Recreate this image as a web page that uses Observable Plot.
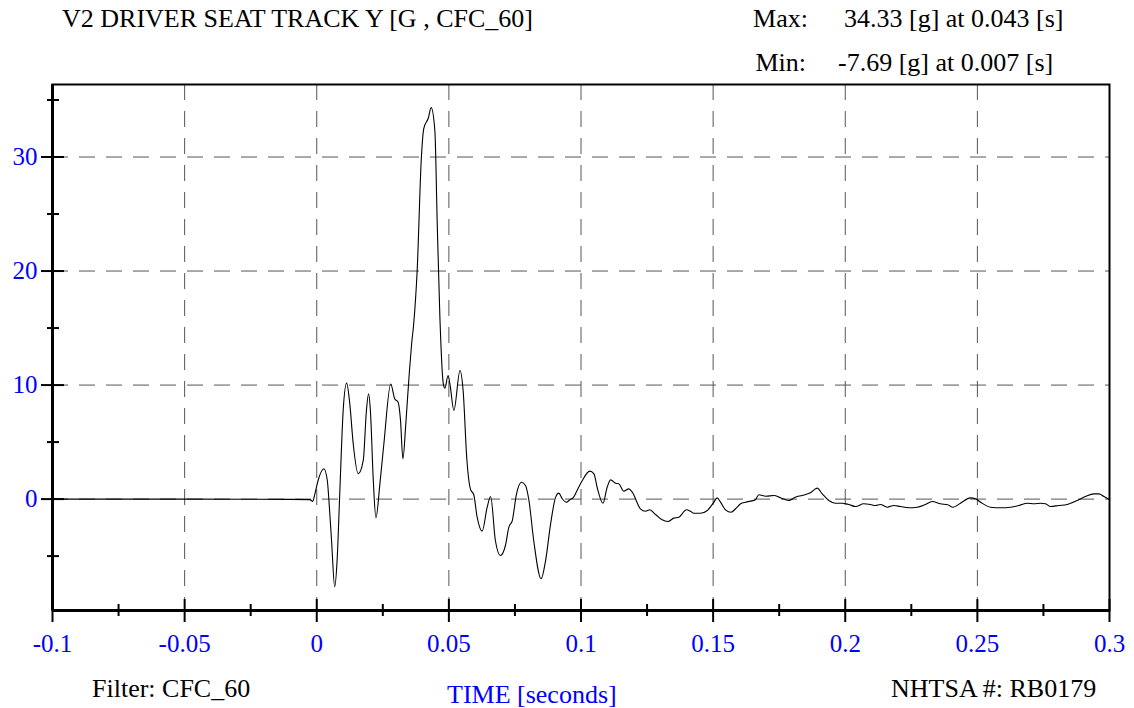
<!DOCTYPE html>
<html>
<head>
<meta charset="utf-8">
<script src="https://cdn.jsdelivr.net/npm/d3@7"></script>
<script src="https://cdn.jsdelivr.net/npm/@observablehq/plot@0.6"></script>
<style>
  html, body { margin: 0; padding: 0; background: #fff; }
  #chart { position: relative; width: 1134px; height: 708px; }
</style>
</head>
<body>
<div id="chart"></div>
<script>
// ---- data ----
const time = [
  -0.1, -0.05, -0.01, -0.0026, -0.0015, -0.0007, 0.0005, 0.0027, 0.0040, 0.0046,
  0.0056, 0.0068, 0.0077, 0.0087, 0.0100, 0.0113, 0.0125, 0.0138, 0.0157, 0.0176,
  0.0188, 0.0196, 0.0203, 0.0214, 0.0224, 0.0239, 0.0254, 0.0280, 0.0295, 0.0308,
  0.0317, 0.0326, 0.0337, 0.0350, 0.0359, 0.0367, 0.0380, 0.0396, 0.0405, 0.0422,
  0.0433, 0.0447, 0.0456, 0.0466, 0.0479, 0.0485, 0.0497, 0.0504, 0.0519, 0.0542,
  0.0554, 0.0568, 0.0582, 0.0594, 0.0607, 0.0626, 0.0645, 0.0658, 0.0676, 0.0695,
  0.0714, 0.0727, 0.0740, 0.0756, 0.0775, 0.0790, 0.0803, 0.0821, 0.0849, 0.0866,
  0.0885, 0.0904, 0.0916, 0.0929, 0.0945, 0.0958, 0.0972, 0.0985, 0.1005, 0.1033,
  0.1049, 0.1061, 0.1083, 0.1099, 0.1112, 0.1131, 0.1143, 0.1162, 0.1181, 0.1194,
  0.1225, 0.1244, 0.1260, 0.1282, 0.1307, 0.1329, 0.1351, 0.1370, 0.1399, 0.1414,
  0.1427, 0.1452, 0.1478, 0.1503, 0.1515, 0.1528, 0.1547, 0.1568, 0.1585, 0.1604,
  0.1623, 0.1641, 0.1660, 0.1673, 0.1699, 0.1730, 0.1755, 0.1786, 0.1811, 0.1837,
  0.1868, 0.1894, 0.1913, 0.1938, 0.1963, 0.1988, 0.2013, 0.2039, 0.2070, 0.2095,
  0.2114, 0.2133, 0.2159, 0.2184, 0.2209, 0.2240, 0.2272, 0.2303, 0.2329, 0.2360,
  0.2388, 0.2408, 0.2436, 0.2474, 0.2493, 0.2512, 0.2550, 0.2588, 0.2625, 0.2657,
  0.2689, 0.2714, 0.2739, 0.2758, 0.2777, 0.2808, 0.2840, 0.2878, 0.2909, 0.2941,
  0.2960, 0.2979, 0.3
];
const accel = [
  0, 0, -0.02, -0.05, -0.2, 0.46, 1.63, 2.66, 1.63, -0.1,
  -3.63, -7.69, -5.39, 0.46, 7.77, 10.17, 8.36, 4.85, 2.22, 3.39,
  7.77, 9.24, 7.77, 1.63, -1.64, 1.34, 4.85, 10.1, 8.8, 8.5,
  6.9, 3.53, 6.6, 11.0, 13.6, 15.4, 20.05, 30.0, 32.5, 33.4,
  34.33, 32.3, 24.1, 15.96, 10.1, 9.73, 10.84, 10.1, 7.77, 11.28,
  9.5, 3.5, 0.85, 0.4, -1.59, -2.81, -0.7, 0.23, -3.63, -4.95,
  -4.07, -2.46, -1.88, 0.46, 1.48, 1.19, -0.12, -3.63, -6.99, -5.39,
  -2.17, 0.17, 0.52, 0.03, -0.27, -0.06, 0.17, 0.75, 1.63, 2.45,
  2.22, 1.04, -0.36, 1.04, 1.69, 1.39, 1.34, 0.69, 0.9, 0.61,
  -0.85, -1.06, -0.94, -1.35, -1.82, -1.96, -1.67, -1.59, -0.94, -1.06,
  -1.24, -1.24, -1.0, -0.27, 0.11, -0.27, -0.94, -1.15, -0.85, -0.41,
  -0.27, -0.18, -0.06, 0.38, 0.25, 0.32, 0.11, -0.12, 0.17, 0.32,
  0.55, 0.96, 0.46, -0.12, -0.36, -0.36, -0.47, -0.65, -0.41, -0.47,
  -0.56, -0.47, -0.71, -0.56, -0.65, -0.76, -0.71, -0.47, -0.21, -0.41,
  -0.5, -0.71, -0.36, 0.11, 0.03, -0.27, -0.71, -0.76, -0.71, -0.56,
  -0.36, -0.41, -0.36, -0.41, -0.65, -0.56, -0.47, -0.12, 0.23, 0.46,
  0.46, 0.23, -0.05
];
const xMajorTicks = [-0.1, -0.05, 0, 0.05, 0.1, 0.15, 0.2, 0.25, 0.3];
const xTickLabels = ["-0.1", "-0.05", "0", "0.05", "0.1", "0.15", "0.2", "0.25", "0.3"];
const xMinorTicks = [-0.075, -0.025, 0.025, 0.075, 0.125, 0.175, 0.225, 0.275];
const xGrid = [-0.05, 0, 0.05, 0.1, 0.15, 0.2, 0.25];
const yMajorTicks = [0, 10, 20, 30];
const yTickLabels = ["0", "10", "20", "30"];
const yMinorTicks = [-5, 5, 15, 25, 35];
const xDomain = [-0.1, 0.3];
const yDomain = [-9.77, 36.36];

const titleText = "V2 DRIVER SEAT TRACK Y [G , CFC_60]";
const maxLabel = "Max:", maxText = "34.33 [g] at 0.043 [s]";
const minLabel = "Min:", minText = "-7.69 [g] at 0.007 [s]";
const filterText = "Filter: CFC_60";
const xAxisTitle = "TIME [seconds]";
const idText = "NHTSA #: RB0179";

// ---- layout ----
const W = 1134, H = 708;
const mL = 52, mR = 25, mT = 84, mB = 98;
const frameH = H - mT - mB;
const frameW = W - mL - mR;
const series = time.map((t, i) => ({t, v: accel[i]}));
const blue = "#0000ff";
const font = "Liberation Serif, Times New Roman, serif";

const plot = Plot.plot({
  width: W, height: H,
  marginLeft: mL, marginRight: mR, marginTop: mT, marginBottom: mB,
  style: {fontFamily: font, background: "white", overflow: "visible"},
  x: {domain: xDomain, axis: null},
  y: {domain: yDomain, axis: null},
  marks: [
    // dashed grid
    Plot.ruleX(xGrid, {stroke: "#555", strokeWidth: 1, strokeDasharray: "16,11"}),
    Plot.ruleY(yMajorTicks, {stroke: "#555", strokeWidth: 1, strokeDasharray: "16,11"}),
    // curve
    Plot.line(series, {x: "t", y: "v", stroke: "#000", strokeWidth: 1.1, curve: "monotone-x"}),
    // frame
    Plot.frame({stroke: "#000", strokeWidth: 2}),
    Plot.ruleX([xDomain[0]], {stroke: "#000", strokeWidth: 3}),
    Plot.ruleY([yDomain[0]], {stroke: "#000", strokeWidth: 3}),
    // x ticks (crossing the bottom axis)
    Plot.tickX(xMajorTicks, {x: d => d, stroke: "#000", strokeWidth: 2, insetTop: frameH - 11, insetBottom: -12}),
    Plot.tickX(xMinorTicks, {x: d => d, stroke: "#000", strokeWidth: 2, insetTop: frameH - 6, insetBottom: -6}),
    // y ticks (crossing the left axis)
    Plot.tickY(yMajorTicks, {y: d => d, stroke: "#000", strokeWidth: 2, insetLeft: -11, insetRight: frameW - 12}),
    Plot.tickY(yMinorTicks, {y: d => d, stroke: "#000", strokeWidth: 2, insetLeft: -5, insetRight: frameW - 7}),
    // tick labels
    Plot.axisX(xMajorTicks, {tickSize: 0, tickPadding: 24, fill: blue, fontSize: 25, label: null,
      tickFormat: (d, i) => xTickLabels[xMajorTicks.indexOf(d)]}),
    Plot.axisY(yMajorTicks, {tickSize: 0, tickPadding: 15, fill: blue, fontSize: 25, label: null,
      tickFormat: (d) => yTickLabels[yMajorTicks.indexOf(d)]})
  ]
});

document.getElementById("chart").appendChild(plot);

// header / footer text
const svg = d3.select(plot);
const addText = (txt, x, y, anchor, color, size) =>
  svg.append("text").attr("x", x).attr("y", y).attr("text-anchor", anchor)
    .attr("fill", color).attr("font-size", size).attr("font-family", font).text(txt);

addText(titleText, 62, 27, "start", "#000", 26);
addText(maxLabel, 808, 27, "end", "#000", 26);
addText(maxText, 844, 27, "start", "#000", 26);
addText(minLabel, 806, 71, "end", "#000", 26);
addText(minText, 838, 71, "start", "#000", 26);
addText(filterText, 92, 697, "start", "#000", 26);
addText(xAxisTitle, 447, 703, "start", blue, 26);
addText(idText, 891, 697, "start", "#000", 26);
</script>
</body>
</html>
